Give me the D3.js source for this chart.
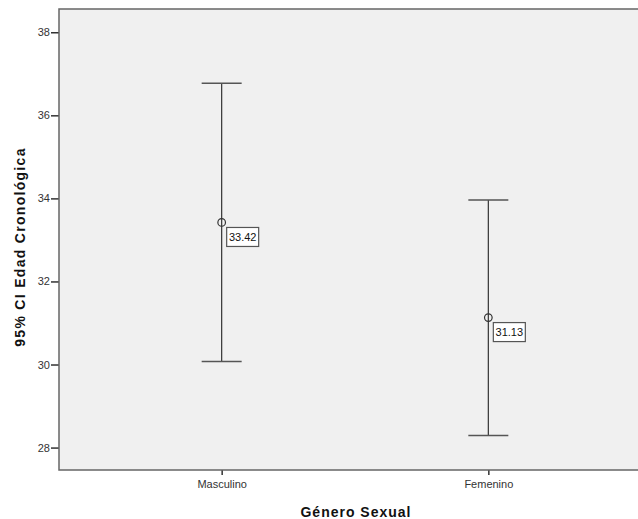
<!DOCTYPE html>
<html>
<head>
<meta charset="utf-8">
<script src="https://cdn.jsdelivr.net/npm/d3@7"></script>
<style>
  body { margin: 0; background: #fff; }
  text { font-family: "Liberation Sans", Arial, sans-serif; }
</style>
</head>
<body>
<script>
// chart values
var categories = ["Masculino", "Femenino"];
var means = [33.42, 31.13];
var lowerCI = [30.07, 28.29];
var upperCI = [36.77, 33.96];
var yTicks = [28, 30, 32, 34, 36, 38];

var svgWidth = 638;
var svgHeight = 519;

var margin = { top: 9, right: -13, bottom: 49, left: 59 };
var chartWidth = svgWidth - margin.left - margin.right;
var chartHeight = svgHeight - margin.top - margin.bottom;

var svg = d3.select("body")
  .append("svg")
  .attr("width", svgWidth)
  .attr("height", svgHeight);

var chartGroup = svg.append("g")
  .attr("transform", `translate(${margin.left}, ${margin.top})`);

var data = categories.map(function(c, i) {
  return { cat: c, mean: means[i], lo: lowerCI[i], hi: upperCI[i] };
});

var xScale = d3.scalePoint()
  .domain(categories)
  .range([0, chartWidth])
  .padding(0.61);

var yScale = d3.scaleLinear()
  .domain([27.46, 38.56])
  .range([chartHeight, 0]);

// plot background
chartGroup.append("rect")
  .attr("x", 0)
  .attr("y", 0)
  .attr("width", chartWidth)
  .attr("height", chartHeight)
  .attr("fill", "#f0f0f0");

// axes
var leftAxis = d3.axisLeft(yScale).tickValues(yTicks).tickSize(8).tickPadding(1);
var bottomAxis = d3.axisBottom(xScale).tickSize(5).tickPadding(5);

var yAxisG = chartGroup.append("g").call(leftAxis);
var xAxisG = chartGroup.append("g")
  .attr("transform", "translate(0, " + chartHeight + ")")
  .call(bottomAxis);

[yAxisG, xAxisG].forEach(function(g) {
  g.select(".domain").remove();
  g.selectAll(".tick line").attr("stroke", "#333").attr("stroke-width", 1.5);
  g.selectAll(".tick text")
    .attr("fill", "#333")
    .style("font-size", "11px");
});

// frame lines (top, left, bottom)
chartGroup.append("path")
  .attr("d", "M" + chartWidth + ",0H0V" + chartHeight + "H" + chartWidth)
  .attr("fill", "none")
  .attr("stroke", "#666")
  .attr("stroke-width", 1.5);

// error bars
var capW = 20;
var bars = chartGroup.selectAll(".bar")
  .data(data).enter()
  .append("g");

bars.append("line")
  .attr("x1", d => xScale(d.cat))
  .attr("x2", d => xScale(d.cat))
  .attr("y1", d => yScale(d.hi))
  .attr("y2", d => yScale(d.lo))
  .attr("stroke", "#333")
  .attr("stroke-width", 1.2);

bars.append("line")
  .attr("x1", d => xScale(d.cat) - capW)
  .attr("x2", d => xScale(d.cat) + capW)
  .attr("y1", d => yScale(d.hi))
  .attr("y2", d => yScale(d.hi))
  .attr("stroke", "#555")
  .attr("stroke-width", 1.5);

bars.append("line")
  .attr("x1", d => xScale(d.cat) - capW)
  .attr("x2", d => xScale(d.cat) + capW)
  .attr("y1", d => yScale(d.lo))
  .attr("y2", d => yScale(d.lo))
  .attr("stroke", "#555")
  .attr("stroke-width", 1.5);

bars.append("circle")
  .attr("cx", d => xScale(d.cat))
  .attr("cy", d => yScale(d.mean))
  .attr("r", 3.8)
  .attr("fill", "none")
  .attr("stroke", "#333")
  .attr("stroke-width", 1.2);

// value labels
bars.append("rect")
  .attr("x", d => xScale(d.cat) + 5)
  .attr("y", d => yScale(d.mean) + 5)
  .attr("width", 32)
  .attr("height", 19)
  .attr("fill", "#fff")
  .attr("stroke", "#555")
  .attr("stroke-width", 1.2);

bars.append("text")
  .attr("x", d => xScale(d.cat) + 21)
  .attr("y", d => yScale(d.mean) + 18.5)
  .attr("text-anchor", "middle")
  .style("font-size", "11px")
  .attr("fill", "#111")
  .text(d => d.mean.toFixed(2));

// axis titles
svg.append("text")
  .attr("x", 356)
  .attr("y", 517)
  .attr("text-anchor", "middle")
  .style("font-size", "14px")
  .style("font-weight", "bold")
  .style("letter-spacing", "1px")
  .attr("fill", "#111")
  .text("Género Sexual");

svg.append("text")
  .attr("transform", "translate(25, 247) rotate(-90)")
  .attr("text-anchor", "middle")
  .style("font-size", "14px")
  .style("font-weight", "bold")
  .style("letter-spacing", "1.3px")
  .attr("fill", "#111")
  .text("95% CI Edad Cronológica");
</script>
</body>
</html>
